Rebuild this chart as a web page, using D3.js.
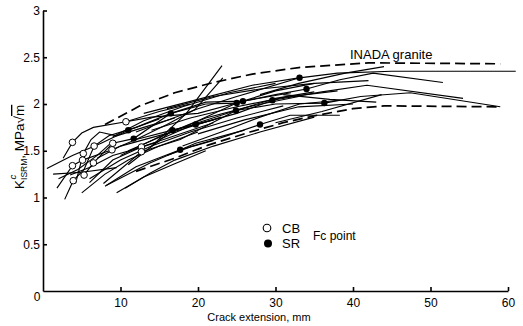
<!DOCTYPE html>
<html>
<head>
<meta charset="utf-8">
<script src="https://cdn.jsdelivr.net/npm/d3@7"></script>
<style>
  body { margin: 0; background: #fff; }
  svg { font-family: "Liberation Sans", Arial, sans-serif; }
  .axis path, .axis line { stroke: #000; stroke-width: 1.6; }
  .axis text { font-size: 12px; fill: #000; }
</style>
</head>
<body>
<svg id="chart" width="523" height="326"></svg>
<script>
// tick values
var xTicks = [10, 20, 30, 40, 50, 60];
var yTicks = [0.5, 1, 1.5, 2, 2.5, 3];

// envelope (dashed) lines: [crack extension mm, K MPa.m^0.5]
var upperBound = [[8, 1.78], [12.5, 1.98], [17, 2.12], [22, 2.23], [27, 2.32], [33, 2.39], [42, 2.44], [59, 2.43]];
var lowerBound = [[12, 1.28], [17, 1.42], [21.3, 1.56], [26.7, 1.70], [31, 1.80], [35.4, 1.88], [40, 1.95], [44, 1.98], [59, 1.97]];

// individual test curves (solid)
var curves = [
  [[0.5, 1.31], [3.8, 1.45], [7.5, 1.58], [11.0, 1.72], [15, 1.84]],
  [[2.6, 1.42], [3.8, 1.59], [5.0, 1.69], [6.5, 1.75], [10.7, 1.81], [15, 1.92], [19, 2.0]],
  [[2.8, 0.98], [3.9, 1.18], [5.3, 1.30], [6.6, 1.55], [8.5, 1.66], [12, 1.75]],
  [[1.3, 1.25], [5.0, 1.27], [9.5, 1.32]],
  [[1.8, 1.10], [3.8, 1.34], [5.1, 1.40], [8.9, 1.51], [12, 1.62], [16.7, 1.72], [22, 1.83]],
  [[4.2, 1.15], [5.2, 1.47], [6.2, 1.62], [7.3, 1.70], [9.5, 1.66], [13, 1.75], [17, 1.85]],
  [[5.3, 1.24], [6.5, 1.37], [9.0, 1.58], [11.7, 1.63], [16.5, 1.90], [21, 2.0], [25.0, 2.01]],
  [[7.8, 1.15], [12.7, 1.49], [17.7, 1.62], [24.9, 1.93], [30, 2.06], [35, 2.13]],
  [[6.0, 1.16], [9.0, 1.40], [12.7, 1.54], [17, 1.66], [22, 1.80]],
  [[8.0, 1.12], [12, 1.33], [17.7, 1.51], [23, 1.64], [28.0, 1.78], [31.9, 1.88], [38.3, 1.88]],
  [[10.6, 1.10], [13.8, 1.26], [17, 1.40], [22, 1.55], [28, 1.70], [35, 1.86]],
  [[8.2, 1.13], [13.8, 1.37], [19.7, 1.58], [26, 1.72]],
  [[11, 1.35], [16.7, 1.72], [19.7, 1.78], [25, 1.90], [29.6, 2.04], [36, 2.13], [41.8, 2.20], [54.2, 2.06]],
  [[14, 1.55], [18.5, 1.90], [23.1, 2.41]],
  [[12, 1.62], [16, 1.78], [19.6, 1.94], [23.2, 2.28]],
  [[12, 1.75], [16.5, 1.90], [21, 2.02], [25.8, 2.03], [30, 2.10], [34.0, 2.16], [38.3, 2.26], [42.6, 2.33], [51.6, 2.23]],
  [[12, 1.70], [20, 1.95], [25, 2.08], [33.1, 2.28], [38, 2.33], [45, 2.35], [61, 2.35]],
  [[15, 1.62], [20, 1.80], [24.9, 1.93], [30, 2.0], [36.3, 2.01], [41, 2.08], [47.4, 2.12], [59, 1.97]],
  [[18, 1.55], [23, 1.70], [28, 1.86], [33.1, 2.0], [38.3, 2.04]],
  [[10, 1.45], [15, 1.65], [20, 1.82], [25.0, 2.01], [30, 2.14], [35, 2.22]],
  [[9, 1.65], [13, 1.82], [18, 1.97], [24, 2.12], [30, 2.22]],
  [[13, 1.90], [20, 2.05], [27, 2.20], [33, 2.28]],
  [[20, 1.68], [26, 1.83], [33, 1.97], [40, 2.0]],
  [[7, 1.42], [10, 1.55], [14, 1.64], [18, 1.73], [23, 1.86]],
  [[3.5, 1.24], [6, 1.32], [9, 1.45], [12, 1.52], [15, 1.60]],
  [[28, 2.10], [33, 2.22], [39, 2.33], [44, 2.40]],
  [[16, 1.45], [19.4, 1.55], [22, 1.61]],
  [[31, 2.10], [37, 2.05], [43, 2.02]],
  [[30, 1.80], [36, 1.92], [43.7, 2.10]],
  [[10.7, 1.81], [14, 1.86], [20, 1.90], [25.8, 2.03], [32, 2.12]],
  [[5, 1.05], [8, 1.25], [11, 1.40], [15, 1.55], [20, 1.70]],
  [[9.5, 1.05], [13, 1.22], [17, 1.36], [21, 1.50]],
  [[6, 1.20], [10, 1.40], [14, 1.55], [19, 1.70], [25, 1.85], [31, 1.98]],
  [[11, 1.50], [16, 1.68], [21, 1.85], [27, 1.98], [33, 2.08]],
  [[14, 1.72], [19, 1.85], [25, 1.97], [31, 2.07], [38, 2.14]],
  [[16, 1.95], [22, 2.08], [28, 2.16], [35, 2.22], [42, 2.25]],
  [[2, 1.20], [4.5, 1.30], [7, 1.45], [9, 1.60]]
];

// Fc points
var cbPoints = [[3.8, 1.59], [3.8, 1.34], [3.9, 1.18], [5.2, 1.47], [5.1, 1.40], [5.3, 1.24], [6.6, 1.55],
  [6.5, 1.37], [9.0, 1.58], [8.9, 1.51], [10.7, 1.81], [12.7, 1.54], [12.7, 1.49]];
var srPoints = [[11.0, 1.72], [11.7, 1.63], [16.5, 1.90], [16.7, 1.72], [17.7, 1.51], [19.7, 1.78], [24.9, 1.93],
  [25.0, 2.01], [25.8, 2.03], [28.0, 1.78], [29.6, 2.04], [33.1, 2.28], [34.0, 2.16], [36.3, 2.01]];

var svg = d3.select("#chart");

var x = d3.scaleLinear().domain([0, 60]).range([43, 508]);
var y = d3.scaleLinear().domain([0, 3]).range([291, 10.5]);

var line = d3.line().x(d => x(d[0])).y(d => y(d[1]));

// axes
svg.append("g")
  .attr("class", "axis")
  .attr("transform", "translate(0," + y(0) + ")")
  .call(d3.axisBottom(x).tickValues(xTicks).tickSizeInner(-4).tickSizeOuter(0).tickPadding(7).tickFormat(d => d));

svg.append("g")
  .attr("class", "axis")
  .attr("transform", "translate(" + x(0) + ",0)")
  .call(d3.axisLeft(y).tickValues(yTicks).tickSizeInner(-4).tickSizeOuter(0).tickPadding(3).tickFormat(d => String(d)));

svg.selectAll(".axis text").attr("font-family", "Liberation Sans, Arial, sans-serif");

svg.append("text")
  .attr("x", 37).attr("y", 301)
  .attr("text-anchor", "middle")
  .attr("font-size", 12)
  .text("0");

// curves
svg.append("g")
  .selectAll("path")
  .data(curves)
  .enter()
  .append("path")
  .attr("d", line)
  .attr("fill", "none")
  .attr("stroke", "#000")
  .attr("stroke-width", 1.15);

svg.append("g")
  .selectAll("path")
  .data([upperBound, lowerBound])
  .enter()
  .append("path")
  .attr("d", line)
  .attr("fill", "none")
  .attr("stroke", "#000")
  .attr("stroke-width", 1.7)
  .attr("stroke-dasharray", "10,5");

// Fc markers
svg.append("g")
  .selectAll("circle")
  .data(cbPoints)
  .enter()
  .append("circle")
  .attr("cx", d => x(d[0]))
  .attr("cy", d => y(d[1]))
  .attr("r", 3.3)
  .attr("fill", "#fff")
  .attr("stroke", "#000")
  .attr("stroke-width", 1);

svg.append("g")
  .selectAll("circle")
  .data(srPoints)
  .enter()
  .append("circle")
  .attr("cx", d => x(d[0]))
  .attr("cy", d => y(d[1]))
  .attr("r", 3.2)
  .attr("fill", "#000");

// labels
svg.append("text")
  .attr("x", 350).attr("y", 59)
  .attr("font-size", 13)
  .text("INADA granite");

svg.append("text")
  .attr("x", 259).attr("y", 321)
  .attr("text-anchor", "middle")
  .attr("font-size", 11)
  .text("Crack extension, mm");

// legend
svg.append("circle").attr("cx", 267).attr("cy", 228).attr("r", 3.8)
  .attr("fill", "#fff").attr("stroke", "#000").attr("stroke-width", 1.1);
svg.append("circle").attr("cx", 268).attr("cy", 243.5).attr("r", 4).attr("fill", "#000");
svg.append("text").attr("x", 282).attr("y", 232.5).attr("font-size", 13).text("CB");
svg.append("text").attr("x", 282).attr("y", 248).attr("font-size", 13).text("SR");
svg.append("text").attr("x", 313).attr("y", 240).attr("font-size", 12).text("Fc point");

// y axis title
var yl = svg.append("g").attr("transform", "translate(24,189) rotate(-90)");
var t = yl.append("text").attr("x", 0).attr("y", 0).attr("font-size", 13.5);
t.append("tspan").text("K");
t.append("tspan").attr("font-size", 8.5).attr("dy", 3).text("ISRM");
t.append("tspan").attr("dy", -3).text(", MPa");
t.append("tspan").text("\u221A");
t.append("tspan").attr("text-decoration", "overline").text("m");
yl.append("text").attr("x", 9.5).attr("y", -8.5).attr("font-size", 9.5).attr("font-style", "italic").text("c");
</script>
</body>
</html>
